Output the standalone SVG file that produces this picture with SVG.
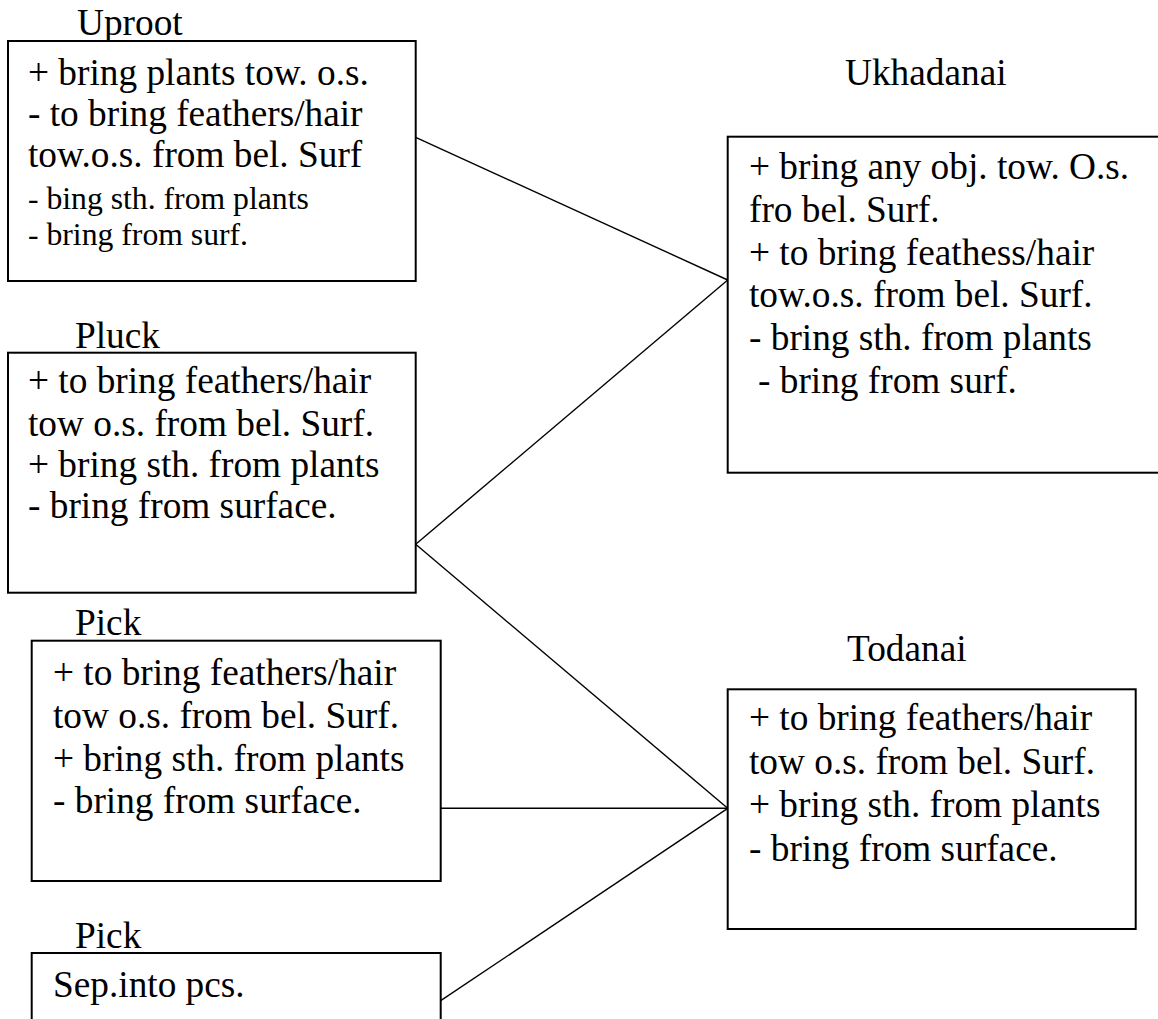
<svg xmlns="http://www.w3.org/2000/svg" width="1158" height="1019" viewBox="0 0 1158 1019">
  <style>
    .box { fill: #ffffff; stroke: #000000; stroke-width: 2; }
    .t { font-family: "Liberation Serif", "Times New Roman", serif; font-size: 37.3px; fill: #000000; }
    .s { font-family: "Liberation Serif", "Times New Roman", serif; font-size: 31.7px; fill: #000000; }
    .link { stroke: #000000; stroke-width: 1.4; fill: none; }
  </style>
  <rect width="1158" height="1019" fill="#ffffff"/>

  <g id="connectors">
    <line class="link" x1="415.7" y1="137.3" x2="727.7" y2="280"/>
    <line class="link" x1="415.7" y1="544.3" x2="727.7" y2="280"/>
    <line class="link" x1="415.7" y1="544.3" x2="727.7" y2="808.3"/>
    <line class="link" x1="440.7" y1="808.3" x2="727.7" y2="808.3"/>
    <line class="link" x1="440.7" y1="1000.7" x2="727.7" y2="808.3"/>
  </g>

  <g id="uproot">
    <text class="t" x="77" y="35">Uproot</text>
    <rect class="box" x="8" y="41" width="407.7" height="240"/>
    <text class="t" x="28" y="85">+ bring plants tow. o.s.</text>
    <text class="t" x="28" y="126">- to bring feathers/hair</text>
    <text class="t" x="28" y="167">tow.o.s. from bel. Surf</text>
    <text class="s" x="28" y="209">- bing sth. from plants</text>
    <text class="s" x="28" y="245">- bring from surf.</text>
  </g>

  <g id="pluck">
    <text class="t" x="75" y="348">Pluck</text>
    <rect class="box" x="8" y="352.7" width="407.7" height="240"/>
    <text class="t" x="28" y="393">+ to bring feathers/hair</text>
    <text class="t" x="28" y="436">tow o.s. from bel. Surf.</text>
    <text class="t" x="28" y="477">+ bring sth. from plants</text>
    <text class="t" x="28" y="518">- bring from surface.</text>
  </g>

  <g id="pick">
    <text class="t" x="75" y="635">Pick</text>
    <rect class="box" x="31.7" y="640.7" width="409" height="240.3"/>
    <text class="t" x="53" y="685">+ to bring feathers/hair</text>
    <text class="t" x="53" y="728">tow o.s. from bel. Surf.</text>
    <text class="t" x="53" y="771">+ bring sth. from plants</text>
    <text class="t" x="53" y="813">- bring from surface.</text>
  </g>

  <g id="pick-sep">
    <text class="t" x="75" y="948">Pick</text>
    <rect class="box" x="31.7" y="953" width="409" height="120"/>
    <text class="t" x="53" y="997">Sep.into pcs.</text>
  </g>

  <g id="ukhadanai">
    <text class="t" x="845" y="85">Ukhadanai</text>
    <rect class="box" x="727.7" y="136.7" width="480" height="336"/>
    <text class="t" x="749" y="179">+ bring any obj. tow. O.s.</text>
    <text class="t" x="749" y="222">fro bel. Surf.</text>
    <text class="t" x="749" y="265">+ to bring feathess/hair</text>
    <text class="t" x="749" y="307">tow.o.s. from bel. Surf.</text>
    <text class="t" x="749" y="350">- bring sth. from plants</text>
    <text class="t" x="758" y="393">- bring from surf.</text>
  </g>

  <g id="todanai">
    <text class="t" x="847" y="661">Todanai</text>
    <rect class="box" x="727.7" y="689.3" width="408" height="239.7"/>
    <text class="t" x="749" y="730">+ to bring feathers/hair</text>
    <text class="t" x="749" y="774">tow o.s. from bel. Surf.</text>
    <text class="t" x="749" y="817">+ bring sth. from plants</text>
    <text class="t" x="749" y="861">- bring from surface.</text>
  </g>
</svg>
